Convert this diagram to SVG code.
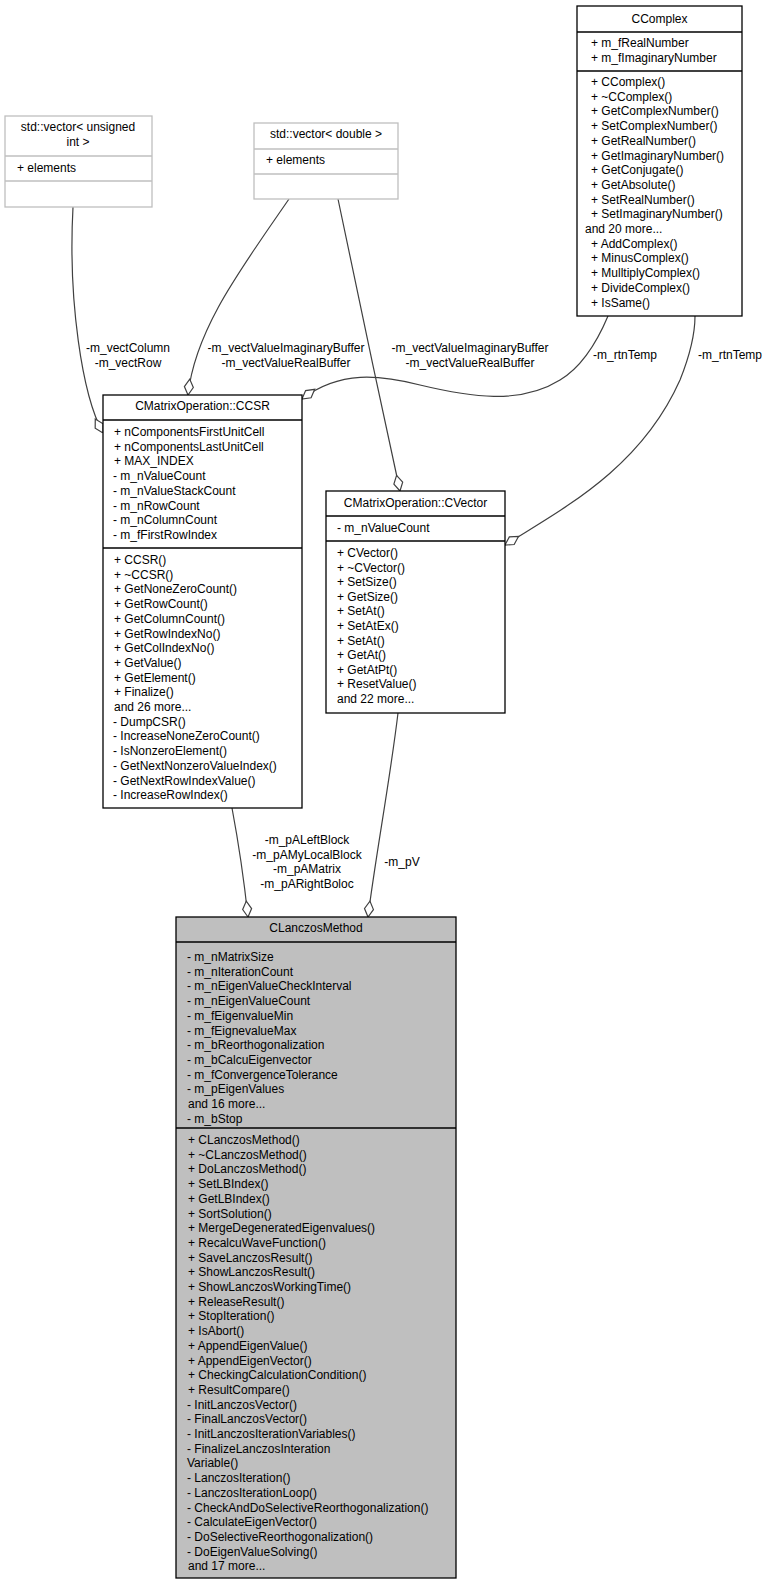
<svg xmlns="http://www.w3.org/2000/svg" width="769" height="1585" viewBox="0 0 769 1585">
<style>
text{font-family:"Liberation Sans",Arial,sans-serif;font-size:12px;fill:#000}
.c{text-anchor:middle}
.box{fill:#fff;stroke:#000;stroke-width:1.3}
.gbox{fill:#fff;stroke:#bfbfbf;stroke-width:1.3}
.gl{stroke:#bfbfbf;stroke-width:1.3}
.bl{stroke:#000;stroke-width:1.3}
.main{fill:#bfbfbf;stroke:#000;stroke-width:1.3}
.e{fill:none;stroke:#404040;stroke-width:1.2;marker-start:url(#dia)}
</style>
<defs>
<marker id="dia" markerUnits="userSpaceOnUse" markerWidth="18" markerHeight="12" refX="0" refY="6" orient="auto" viewBox="0 0 18 12">
<polygon points="0,6 8,1.5 16,6 8,10.5" fill="#fff" stroke="#404040" stroke-width="1.2"/>
</marker>
</defs>
<g id="connectors">
<path class="e" d="M103,433 C82,395 68,300 73,207"/>
<path class="e" d="M188,395 C195,330 240,270 289,199"/>
<path class="e" d="M400,491 C380,400 355,280 338,199"/>
<path class="e" d="M302,399 C340,370 380,375 420,385 C470,397 520,405 560,380 C585,365 600,335 608,316"/>
<path class="e" d="M505,545 C560,510 640,470 680,380 C690,355 695,335 695,316"/>
<path class="e" d="M248,917 C244,880 238,840 232,808"/>
<path class="e" d="M368,917 C375,860 390,780 398,713"/>
<text class="c" x="128" y="352">-m_vectColumn</text>
<text class="c" x="128" y="367">-m_vectRow</text>
<text class="c" x="286" y="352">-m_vectValueImaginaryBuffer</text>
<text class="c" x="286" y="367">-m_vectValueRealBuffer</text>
<text class="c" x="470" y="352">-m_vectValueImaginaryBuffer</text>
<text class="c" x="470" y="367">-m_vectValueRealBuffer</text>
<text class="c" x="625" y="359">-m_rtnTemp</text>
<text class="c" x="730" y="359">-m_rtnTemp</text>
<text class="c" x="307" y="844">-m_pALeftBlock</text>
<text class="c" x="307" y="859">-m_pAMyLocalBlock</text>
<text class="c" x="307" y="873">-m_pAMatrix</text>
<text class="c" x="307" y="888">-m_pARightBoloc</text>
<text class="c" x="402" y="866">-m_pV</text>
</g>
<g id="vec_uint">
<rect class="gbox" x="5" y="116" width="147" height="91"/>
<line class="gl" x1="5" y1="156" x2="152" y2="156"/>
<line class="gl" x1="5" y1="181" x2="152" y2="181"/>
<text class="c" x="78" y="131">std::vector&lt; unsigned</text>
<text class="c" x="78" y="146">int &gt;</text>
<text x="17" y="172">+ elements</text>
</g>
<g id="vec_double">
<rect class="gbox" x="254" y="123" width="144" height="76"/>
<line class="gl" x1="254" y1="149" x2="398" y2="149"/>
<line class="gl" x1="254" y1="174" x2="398" y2="174"/>
<text class="c" x="326" y="138">std::vector&lt; double &gt;</text>
<text x="266" y="164">+ elements</text>
</g>
<g id="ccomplex">
<rect class="box" x="577" y="6" width="165" height="310"/>
<line class="bl" x1="577" y1="32" x2="742" y2="32"/>
<line class="bl" x1="577" y1="71" x2="742" y2="71"/>
<text class="c" x="659.5" y="23">CComplex</text>
<text x="591" y="47">+ m_fRealNumber</text>
<text x="591" y="61.6">+ m_fImaginaryNumber</text>
<text x="591" y="86">+ CComplex()</text>
<text x="591" y="100.7">+ ~CComplex()</text>
<text x="591" y="115.4">+ GetComplexNumber()</text>
<text x="591" y="130.1">+ SetComplexNumber()</text>
<text x="591" y="144.8">+ GetRealNumber()</text>
<text x="591" y="159.5">+ GetImaginaryNumber()</text>
<text x="591" y="174.2">+ GetConjugate()</text>
<text x="591" y="188.9">+ GetAbsolute()</text>
<text x="591" y="203.6">+ SetRealNumber()</text>
<text x="591" y="218.3">+ SetImaginaryNumber()</text>
<text x="585" y="233">and 20 more...</text>
<text x="591" y="247.7">+ AddComplex()</text>
<text x="591" y="262.4">+ MinusComplex()</text>
<text x="591" y="277.1">+ MulltiplyComplex()</text>
<text x="591" y="291.8">+ DivideComplex()</text>
<text x="591" y="306.5">+ IsSame()</text>
</g>
<g id="ccsr">
<rect class="box" x="103" y="395" width="199" height="413"/>
<line class="bl" x1="103" y1="420" x2="302" y2="420"/>
<line class="bl" x1="103" y1="548" x2="302" y2="548"/>
<text class="c" x="202.5" y="410">CMatrixOperation::CCSR</text>
<text x="114" y="436">+ nComponentsFirstUnitCell</text>
<text x="114" y="450.7">+ nComponentsLastUnitCell</text>
<text x="114" y="465.4">+ MAX_INDEX</text>
<text x="113" y="480.1">- m_nValueCount</text>
<text x="113" y="494.8">- m_nValueStackCount</text>
<text x="113" y="509.5">- m_nRowCount</text>
<text x="113" y="524.2">- m_nColumnCount</text>
<text x="113" y="538.9">- m_fFirstRowIndex</text>
<text x="114" y="564">+ CCSR()</text>
<text x="114" y="578.7">+ ~CCSR()</text>
<text x="114" y="593.4">+ GetNoneZeroCount()</text>
<text x="114" y="608.1">+ GetRowCount()</text>
<text x="114" y="622.8">+ GetColumnCount()</text>
<text x="114" y="637.5">+ GetRowIndexNo()</text>
<text x="114" y="652.2">+ GetColIndexNo()</text>
<text x="114" y="666.9">+ GetValue()</text>
<text x="114" y="681.6">+ GetElement()</text>
<text x="114" y="696.3">+ Finalize()</text>
<text x="114" y="711">and 26 more...</text>
<text x="113" y="725.7">- DumpCSR()</text>
<text x="113" y="740.4">- IncreaseNoneZeroCount()</text>
<text x="113" y="755.1">- IsNonzeroElement()</text>
<text x="113" y="769.8">- GetNextNonzeroValueIndex()</text>
<text x="113" y="784.5">- GetNextRowIndexValue()</text>
<text x="113" y="799.2">- IncreaseRowIndex()</text>
</g>
<g id="cvector">
<rect class="box" x="326" y="491" width="179" height="222"/>
<line class="bl" x1="326" y1="516" x2="505" y2="516"/>
<line class="bl" x1="326" y1="541" x2="505" y2="541"/>
<text class="c" x="415.5" y="507">CMatrixOperation::CVector</text>
<text x="337" y="532">- m_nValueCount</text>
<text x="337" y="557">+ CVector()</text>
<text x="337" y="571.6">+ ~CVector()</text>
<text x="337" y="586.2">+ SetSize()</text>
<text x="337" y="600.8">+ GetSize()</text>
<text x="337" y="615.4">+ SetAt()</text>
<text x="337" y="630">+ SetAtEx()</text>
<text x="337" y="644.6">+ SetAt()</text>
<text x="337" y="659.2">+ GetAt()</text>
<text x="337" y="673.8">+ GetAtPt()</text>
<text x="337" y="688.4">+ ResetValue()</text>
<text x="337" y="703">and 22 more...</text>
</g>
<g id="clanczos">
<rect class="main" x="176" y="917" width="280" height="661"/>
<line class="bl" x1="176" y1="942" x2="456" y2="942"/>
<line class="bl" x1="176" y1="1128" x2="456" y2="1128"/>
<text class="c" x="316" y="932">CLanczosMethod</text>
<text x="187" y="961">- m_nMatrixSize</text>
<text x="187" y="975.7">- m_nIterationCount</text>
<text x="187" y="990.4">- m_nEigenValueCheckInterval</text>
<text x="187" y="1005.1">- m_nEigenValueCount</text>
<text x="187" y="1019.8">- m_fEigenvalueMin</text>
<text x="187" y="1034.5">- m_fEignevalueMax</text>
<text x="187" y="1049.2">- m_bReorthogonalization</text>
<text x="187" y="1063.9">- m_bCalcuEigenvector</text>
<text x="187" y="1078.6">- m_fConvergenceTolerance</text>
<text x="187" y="1093.3">- m_pEigenValues</text>
<text x="188" y="1108">and 16 more...</text>
<text x="187" y="1122.7">- m_bStop</text>
<text x="188" y="1144">+ CLanczosMethod()</text>
<text x="188" y="1158.7">+ ~CLanczosMethod()</text>
<text x="188" y="1173.4">+ DoLanczosMethod()</text>
<text x="188" y="1188.1">+ SetLBIndex()</text>
<text x="188" y="1202.8">+ GetLBIndex()</text>
<text x="188" y="1217.5">+ SortSolution()</text>
<text x="188" y="1232.2">+ MergeDegeneratedEigenvalues()</text>
<text x="188" y="1246.9">+ RecalcuWaveFunction()</text>
<text x="188" y="1261.6">+ SaveLanczosResult()</text>
<text x="188" y="1276.3">+ ShowLanczosResult()</text>
<text x="188" y="1291">+ ShowLanczosWorkingTime()</text>
<text x="188" y="1305.7">+ ReleaseResult()</text>
<text x="188" y="1320.4">+ StopIteration()</text>
<text x="188" y="1335.1">+ IsAbort()</text>
<text x="188" y="1349.8">+ AppendEigenValue()</text>
<text x="188" y="1364.5">+ AppendEigenVector()</text>
<text x="188" y="1379.2">+ CheckingCalculationCondition()</text>
<text x="188" y="1393.9">+ ResultCompare()</text>
<text x="187" y="1408.6">- InitLanczosVector()</text>
<text x="187" y="1423.3">- FinalLanczosVector()</text>
<text x="187" y="1438">- InitLanczosIterationVariables()</text>
<text x="187" y="1452.7">- FinalizeLanczosInteration</text>
<text x="187" y="1467.4">Variable()</text>
<text x="187" y="1482.1">- LanczosIteration()</text>
<text x="187" y="1496.8">- LanczosIterationLoop()</text>
<text x="187" y="1511.5">- CheckAndDoSelectiveReorthogonalization()</text>
<text x="187" y="1526.2">- CalculateEigenVector()</text>
<text x="187" y="1540.9">- DoSelectiveReorthogonalization()</text>
<text x="187" y="1555.6">- DoEigenValueSolving()</text>
<text x="188" y="1570.3">and 17 more...</text>
</g>
</svg>
